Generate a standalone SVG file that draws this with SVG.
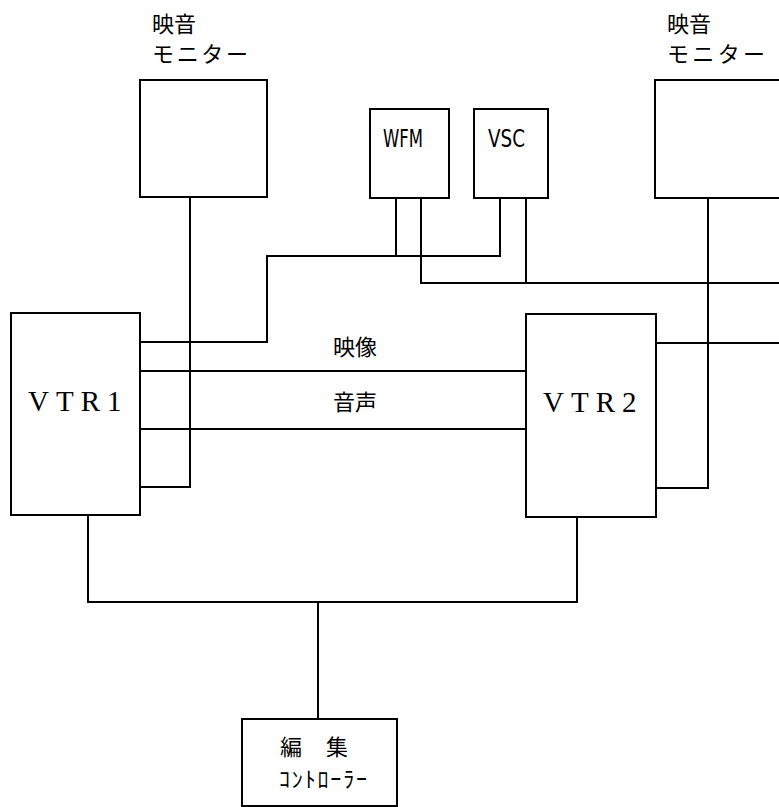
<svg xmlns="http://www.w3.org/2000/svg" width="779" height="807" viewBox="0 0 779 807">
<style>
.box{fill:none;stroke:#000;stroke-width:2}
.ln{fill:none;stroke:#000;stroke-width:2}
.jp{font-family:"Noto Sans CJK JP","Noto Sans",sans-serif;font-size:22px;fill:#000}
.vtr{font-family:"Liberation Serif",serif;font-size:29px;letter-spacing:7px;fill:#000}
.sm{font-family:"DejaVu Sans Condensed","Liberation Sans Narrow",sans-serif;font-size:24px;fill:#000}
</style>
<rect width="779" height="807" fill="#fff"/>
<g id="monitor1">
<rect class="box" x="140" y="80" width="127" height="117"/>
<text class="jp" x="152" y="32">映音</text>
<text class="jp" x="152" y="62" textLength="96">モニター</text>
</g>
<g id="monitor2">
<rect class="box" x="655" y="80" width="130" height="118"/>
<text class="jp" x="667" y="32">映音</text>
<text class="jp" x="667" y="62" textLength="98">モニター</text>
</g>
<g id="wfm">
<rect class="box" x="370" y="109" width="79" height="89"/>
<text class="sm" x="383" y="147" textLength="40" lengthAdjust="spacingAndGlyphs">WFM</text>
</g>
<g id="vsc">
<rect class="box" x="474" y="109" width="74" height="89"/>
<text class="sm" x="488" y="147" textLength="37" lengthAdjust="spacingAndGlyphs">VSC</text>
</g>
<g id="vtr1">
<rect class="box" x="11" y="313" width="129" height="202"/>
<text class="vtr" x="28" y="411">VTR1</text>
</g>
<g id="vtr2">
<rect class="box" x="526" y="314" width="130" height="203"/>
<text class="vtr" x="543" y="412">VTR2</text>
</g>
<g id="controller">
<rect class="box" x="242" y="719" width="155" height="87"/>
<text class="jp" x="280" y="755" font-size="19">編</text>
<text class="jp" x="326" y="755" font-size="19">集</text>
<text class="jp" x="279" y="787" font-size="14" textLength="88">ｺﾝﾄﾛｰﾗｰ</text>
</g>
<g id="connectors">
<polyline class="ln" points="140,342 267,342 267,256 500,256 500,198"/>
<line class="ln" x1="396" y1="198" x2="396" y2="256"/>
<polyline class="ln" points="421,198 421,283 779,283"/>
<line class="ln" x1="526" y1="198" x2="526" y2="283"/>
<polyline class="ln" points="190,197 190,487 140,487"/>
<line class="ln" x1="140" y1="371" x2="526" y2="371"/>
<line class="ln" x1="140" y1="429" x2="526" y2="429"/>
<line class="ln" x1="656" y1="343" x2="779" y2="343"/>
<polyline class="ln" points="708,198 708,488 656,488"/>
<polyline class="ln" points="88,515 88,602 577,602 577,517"/>
<line class="ln" x1="318" y1="602" x2="318" y2="719"/>
<text class="jp" x="333" y="355">映像</text>
<text class="jp" x="333" y="410">音声</text>
</g>
</svg>
